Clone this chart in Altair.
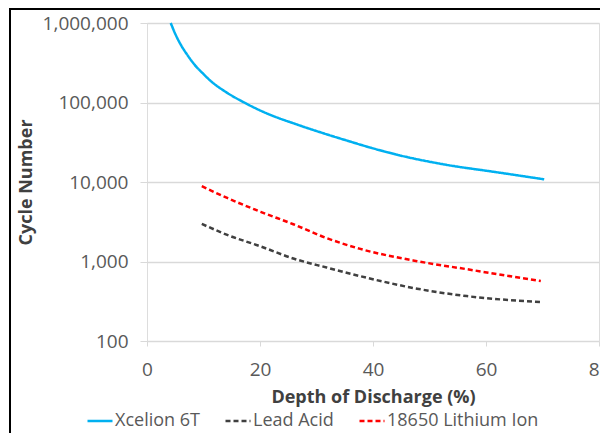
import altair as alt
import pandas as pd

series_names = ["Xcelion 6T", "Lead Acid", "18650 Lithium Ion"]
series_colors = ["#00B0F0", "#404040", "#FF0000"]

xcelion_dod = [4.2, 5.0, 6.0, 7.0, 8.4, 10.0, 11.3, 14.0, 17.2, 21.0, 26.5, 31.0, 35.5, 40.0, 44.3, 53.1, 61.8, 70.3]
xcelion_cycles = [1000000, 730000, 530000, 410000, 300000, 228000, 186000, 135000, 100000, 74000,
                  53000, 41500, 33000, 26500, 22000, 16400, 13300, 10800]

lead_dod = [9.7, 14.2, 20.1, 25.9, 31.8, 38.8, 47.8, 56.6, 70.0]
lead_cycles = [2970, 2160, 1550, 1090, 840, 627, 455, 367, 308]

li_dod = [9.7, 14.2, 20.1, 25.9, 31.8, 37.6, 47.8, 56.6, 64.7, 69.7]
li_cycles = [8850, 6300, 4220, 2940, 1970, 1450, 1010, 800, 646, 568]

x_ticks = [0, 20, 40, 60, 80]
y_ticks = [100, 1000, 10000, 100000, 1000000]

rows = []
for name, xs, ys in [(series_names[0], xcelion_dod, xcelion_cycles),
                     (series_names[1], lead_dod, lead_cycles),
                     (series_names[2], li_dod, li_cycles)]:
    for i, (x, y) in enumerate(zip(xs, ys)):
        rows.append({"series": name, "dod": x, "cycles": y, "order": i})
df = pd.DataFrame(rows)

FONT = "Open Sans"

legend_opts = dict(title=None, orient="none", legendX=-61, legendY=384,
                   direction="horizontal", symbolType="stroke",
                   symbolSize=625, symbolStrokeWidth=2.5,
                   labelFontSize=18, labelFont=FONT, labelColor="#595959",
                   labelOffset=1, columnPadding=20)

lines = alt.Chart(df).mark_line(strokeWidth=2.5, interpolate="monotone").encode(
    x=alt.X("dod:Q",
            scale=alt.Scale(domain=[0, 80], nice=False),
            axis=alt.Axis(values=x_ticks, title="Depth of Discharge (%)", grid=False,
                          domain=False, tickColor="#d9d9d9", tickSize=5, labelPadding=14,
                          labelFlush=False,
                          labelFontSize=19, labelColor="#595959", labelFont=FONT,
                          titleFontSize=18, titleFont=FONT, titleFontWeight="bold",
                          titleColor="#404040", titlePadding=9)),
    y=alt.Y("cycles:Q",
            scale=alt.Scale(type="log", domain=[100, 1000000], nice=False),
            axis=alt.Axis(values=y_ticks, format=",", title="Cycle Number",
                          grid=True, gridColor="#d9d9d9", gridWidth=1.5,
                          domain=False, tickColor="#d9d9d9", tickSize=7, labelPadding=12,
                          labelFlush=False,
                          labelFontSize=19, labelColor="#595959", labelFont=FONT,
                          titleFontSize=18, titleFont=FONT, titleFontWeight="bold",
                          titleColor="#404040", titlePadding=7)),
    color=alt.Color("series:N",
                    scale=alt.Scale(domain=series_names, range=series_colors),
                    legend=alt.Legend(**legend_opts)),
    strokeDash=alt.StrokeDash("series:N",
                              scale=alt.Scale(domain=series_names, range=[[1, 0], [5, 3], [5, 3]]),
                              legend=alt.Legend(**legend_opts)),
    order="order:Q",
)

frame_df = pd.DataFrame({"k": [0]})
top_border = alt.Chart(frame_df).mark_rule(color="black", strokeWidth=2).encode(
    x=alt.value(-138), x2=alt.value(470), y=alt.value(-14))
left_border = alt.Chart(frame_df).mark_rule(color="black", strokeWidth=2).encode(
    x=alt.value(-137), y=alt.value(-15), y2=alt.value(430))

chart = alt.layer(lines, top_border, left_border).properties(
    width=452, height=318,
    autosize=alt.AutoSizeParams(type="none"),
    padding={"left": 139, "top": 15, "right": 1, "bottom": 92},
).configure_view(stroke="#595959", strokeWidth=1.5).configure(background="white")

chart.save("out.html", embed_options={"renderer": "svg", "actions": False})
